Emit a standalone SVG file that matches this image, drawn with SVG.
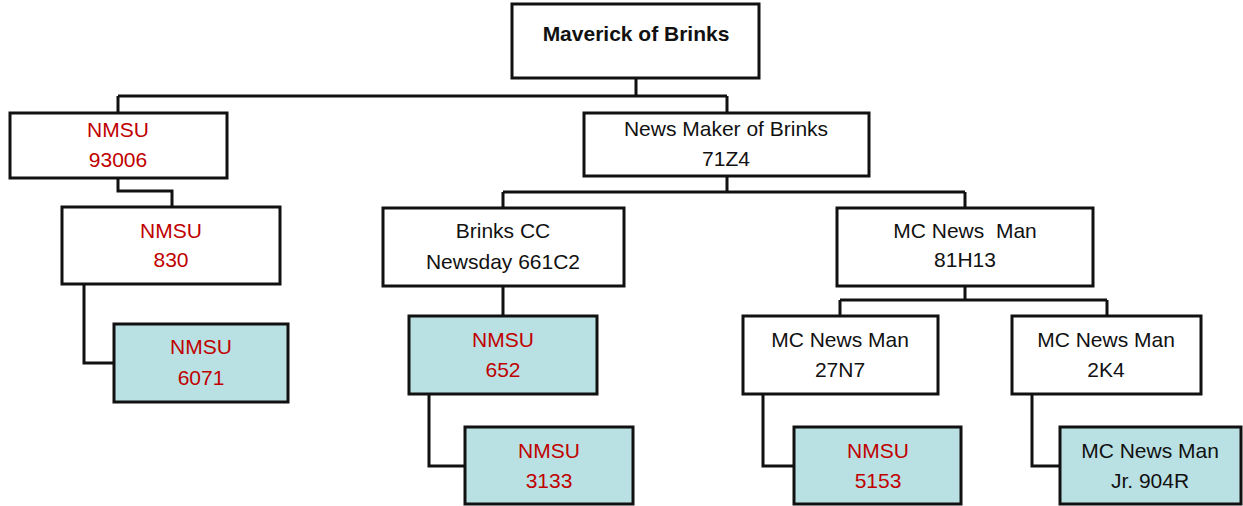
<svg xmlns="http://www.w3.org/2000/svg" width="1243" height="506" viewBox="0 0 1243 506">
<style>
.box{fill:#ffffff;stroke:#111;stroke-width:3}
.leaf{fill:#b9e0e3;stroke:#111;stroke-width:3}
.t{font-family:"Liberation Sans",Arial,sans-serif;font-size:21px;text-anchor:middle;fill:#111}
.r{fill:#c00000}
.b{font-weight:bold}
.c{fill:none;stroke:#111;stroke-width:3}
</style>
<rect width="1243" height="506" fill="#ffffff"/>
<g id="connectors">
<path class="c" d="M636 78 V96 M118 96 H727 M118 96 V113 M727 96 V112"/>
<path class="c" d="M118 178 V191 H172 V207"/>
<path class="c" d="M84 284 V363 H114"/>
<path class="c" d="M727 176 V192 M503 192 H965 M503 192 V208 M965 192 V208"/>
<path class="c" d="M503 286 V316"/>
<path class="c" d="M429 394 V466 H465"/>
<path class="c" d="M965 286 V300 M840 300 H1107 M840 300 V316 M1107 300 V316"/>
<path class="c" d="M763 394 V466 H794"/>
<path class="c" d="M1032 394 V466 H1060"/>
</g>
<g id="n-root"><rect class="box" x="512" y="4" width="247" height="74"/><text class="t b" x="636" y="41">Maverick of Brinks</text></g>
<g id="n-93006"><rect class="box" x="10" y="113" width="217" height="65"/><text class="t r" x="118" y="137">NMSU</text><text class="t r" x="118" y="167">93006</text></g>
<g id="n-830"><rect class="box" x="62" y="207" width="218" height="77"/><text class="t r" x="171" y="238">NMSU</text><text class="t r" x="171" y="267">830</text></g>
<g id="n-6071"><rect class="leaf" x="114" y="324" width="174" height="78"/><text class="t r" x="201" y="354">NMSU</text><text class="t r" x="201" y="385">6071</text></g>
<g id="n-71z4"><rect class="box" x="584" y="113" width="285" height="63"/><text class="t" x="726" y="136">News Maker of Brinks</text><text class="t" x="726" y="166">71Z4</text></g>
<g id="n-661c2"><rect class="box" x="383" y="208" width="241" height="78"/><text class="t" x="503" y="238">Brinks CC</text><text class="t" x="503" y="269">Newsday 661C2</text></g>
<g id="n-652"><rect class="leaf" x="409" y="316" width="188" height="78"/><text class="t r" x="503" y="347">NMSU</text><text class="t r" x="503" y="377">652</text></g>
<g id="n-3133"><rect class="leaf" x="465" y="427" width="168" height="77"/><text class="t r" x="549" y="458">NMSU</text><text class="t r" x="549" y="488">3133</text></g>
<g id="n-81h13"><rect class="box" x="837" y="208" width="256" height="78"/><text class="t" x="965" y="238" xml:space="preserve">MC News  Man</text><text class="t" x="965" y="267">81H13</text></g>
<g id="n-27n7"><rect class="box" x="743" y="316" width="195" height="78"/><text class="t" x="840" y="347">MC News Man</text><text class="t" x="840" y="377">27N7</text></g>
<g id="n-2k4"><rect class="box" x="1012" y="316" width="189" height="78"/><text class="t" x="1106" y="347">MC News Man</text><text class="t" x="1106" y="377">2K4</text></g>
<g id="n-5153"><rect class="leaf" x="794" y="427" width="167" height="77"/><text class="t r" x="878" y="458">NMSU</text><text class="t r" x="878" y="488">5153</text></g>
<g id="n-904r"><rect class="leaf" x="1060" y="427" width="181" height="77"/><text class="t" x="1150" y="458">MC News Man</text><text class="t" x="1150" y="488">Jr. 904R</text></g>
</svg>
